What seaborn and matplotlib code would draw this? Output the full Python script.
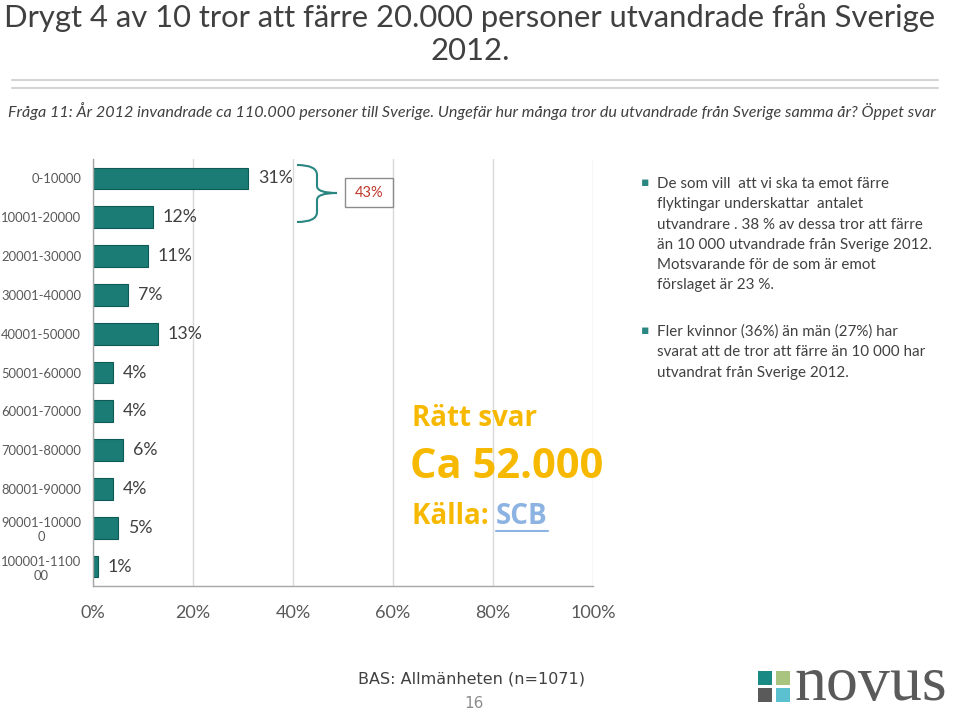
import numpy as np
import matplotlib
matplotlib.use("Agg")
import matplotlib.pyplot as plt
import seaborn as sns
from matplotlib.path import Path
from matplotlib.patches import PathPatch, Rectangle

# data
categories = ["0-10000", "10001-20000", "20001-30000", "30001-40000", "40001-50000",
              "50001-60000", "60001-70000", "70001-80000", "80001-90000",
              "90001-10000\n0", "100001-1100\n00"]
values = [31, 12, 11, 7, 13, 4, 4, 6, 4, 5, 1]
x_ticks = [0, 20, 40, 60, 80, 100]
x_tick_labels = [f"{t}%" for t in x_ticks]
bracket_label = "43%"

title_lines = ["Drygt 4 av 10 tror att färre 20.000 personer utvandrade från Sverige", "2012."]
question = ("Fråga 11: År 2012 invandrade ca 110.000 personer till Sverige. "
            "Ungefär hur många tror du utvandrade från Sverige samma år? Öppet svar")
bullet1 = ["De som vill  att vi ska ta emot färre", "flyktingar underskattar  antalet",
           "utvandrare . 38 % av dessa tror att färre", "än 10 000 utvandrade från Sverige 2012.",
           "Motsvarande för de som är emot", "förslaget är 23 %."]
bullet2 = ["Fler kvinnor (36%) än män (27%) har", "svarat att de tror att färre än 10 000 har",
           "utvandrat från Sverige 2012."]

W, H = 960, 714
TEAL = "#1b7b75"
GOLD = "#f7b900"
GREY = "#595959"
DARK = "#404040"


def px(x, y):
    return x / W, 1 - y / H


sns.set_style("white")
plt.rcParams["font.family"] = ["Lato", "DejaVu Sans"]

fig = plt.figure(figsize=(9.6, 7.14), dpi=100)
ax = fig.add_axes([93 / W, 1 - 586 / H, 500 / W, 427 / H])

sns.barplot(x=values, y=categories, orient="h", color=TEAL, width=0.56,
            edgecolor="#0e5a55", linewidth=0.8, saturation=1, ax=ax)
ax.bar_label(ax.containers[0], labels=[f"{v}%" for v in values], padding=7,
             fontsize=12.8, color=DARK)

ax.set_xlim(0, 100)
ax.set_ylim(len(categories) - 0.5, -0.5)
ax.set_xticks(x_ticks)
ax.set_xticklabels(x_tick_labels, fontsize=13, color=GREY)
ax.set_yticks(np.arange(-0.5, len(categories), 1), minor=True)
ax.tick_params(axis="y", which="major", length=0, pad=8.5, labelsize=9.4, labelcolor=GREY)
ax.tick_params(axis="y", which="minor", length=4, color="#a6a6a6", direction="out")
ax.tick_params(axis="x", length=4, color="#a6a6a6", direction="out", pad=10)
for lbl in ax.get_yticklabels():
    lbl.set_horizontalalignment("right")
    lbl.set_multialignment("center")
ax.set_xlabel("")
ax.set_ylabel("")
ax.grid(axis="x", color="#d9d9d9", linewidth=1)
ax.set_axisbelow(True)
for s in ["top", "right"]:
    ax.spines[s].set_visible(False)
for s in ["left", "bottom"]:
    ax.spines[s].set_color("#a6a6a6")
    ax.spines[s].set_linewidth(1)

# curly bracket over first two bars
pts = [px(297, 165), px(317, 165), px(317, 175), px(317, 186), px(317, 193), px(337, 193),
       px(317, 193), px(317, 200), px(317, 212), px(317, 222), px(297, 222)]
codes = [Path.MOVETO, Path.CURVE3, Path.CURVE3, Path.LINETO, Path.CURVE3, Path.CURVE3,
         Path.CURVE3, Path.CURVE3, Path.LINETO, Path.CURVE3, Path.CURVE3]
fig.add_artist(PathPatch(Path(pts, codes), transform=fig.transFigure, fill=False,
                         edgecolor="#2a8681", linewidth=1.5))
bx, by = px(345, 207)
fig.add_artist(Rectangle((bx, by), 48 / W, 29 / H, transform=fig.transFigure,
                         fill=False, edgecolor="#8c8c8c", linewidth=1))
fig.text(*px(369, 193), bracket_label, ha="center", va="center", fontsize=10.5, color="#c0392b")

# correct answer
fig.text(*px(412, 418), "Rätt svar", ha="left", va="center", fontsize=20,
         fontweight="bold", color=GOLD, family=["Open Sans", "DejaVu Sans"])
fig.text(*px(410, 468), "Ca 52.000", ha="left", va="center", fontsize=30,
         fontweight="bold", color=GOLD, family=["Open Sans", "DejaVu Sans"])
t_src = fig.text(*px(412, 517), "Källa: ", ha="left", va="center", fontsize=20,
                 fontweight="bold", color=GOLD, family=["Open Sans", "DejaVu Sans"])
renderer = fig.canvas.get_renderer()
bb = t_src.get_window_extent(renderer)
t_scb = fig.text(bb.x1 / W, 1 - 517 / H, "SCB", ha="left", va="center", fontsize=20,
                 fontweight="bold", color="#8db3e2", family=["Open Sans", "DejaVu Sans"])
bb2 = t_scb.get_window_extent(renderer)
fig.add_artist(plt.Line2D([bb2.x0 / W, bb2.x1 / W], [1 - 531 / H, 1 - 531 / H],
                          transform=fig.transFigure, color="#8db3e2", linewidth=1.5))

# title and question
for txt, yy in zip(title_lines, (18, 51)):
    fig.text(*px(470, yy), txt, ha="center", va="center", fontsize=22.3, color=DARK)
for yy in (80, 88):
    fig.add_artist(plt.Line2D([12 / W, 938 / W], [1 - yy / H] * 2, transform=fig.transFigure,
                              color="#d4d4d4", linewidth=1.5))
fig.text(*px(472, 111), question, ha="center", va="center", fontsize=11.6,
         style="italic", color=DARK)

# bullet notes
for lines, y0 in ((bullet1, 184), (bullet2, 332)):
    fig.text(*px(645, y0 - 2), "▪", ha="center", va="center", fontsize=9,
             color="#2a8681", family="DejaVu Sans")
    for i, line in enumerate(lines):
        fig.text(*px(657, y0 + i * 20.3), line, ha="left", va="center", fontsize=10.9, color=DARK)

# footer
fig.text(*px(472, 679), "BAS: Allmänheten (n=1071)", ha="center", va="center",
         fontsize=11.5, color=DARK, family="DejaVu Sans")
fig.text(*px(474, 704), "16", ha="center", va="center", fontsize=11,
         color="#8c8c8c", family="DejaVu Sans")
for (sx, sy), c in zip([(758, 685), (776, 685), (758, 702), (776, 702)],
                       ["#1a8a84", "#a9c47f", "#5a5a5a", "#5bc0d0"]):
    fig.add_artist(Rectangle(px(sx, sy), 14 / W, 14 / H, transform=fig.transFigure,
                             facecolor=c, edgecolor="none"))
fig.text(*px(794, 700), "novus", ha="left", va="baseline", fontsize=46,
         color="#5a5a5a", family="Liberation Serif")

fig.savefig("out.png", dpi=100)
